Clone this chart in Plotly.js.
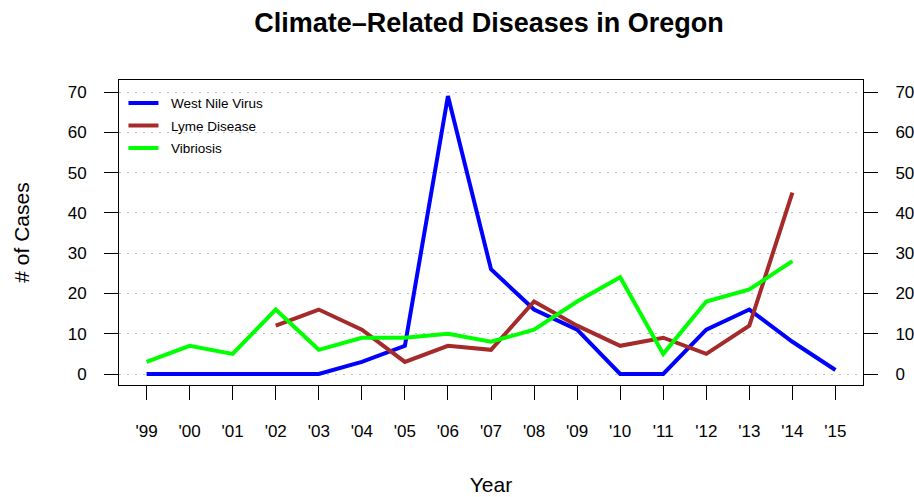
<!DOCTYPE html>
<html>
<head>
<meta charset="utf-8">
<script src="https://cdn.plot.ly/plotly-3.0.1.min.js"></script>
<style>html,body{margin:0;padding:0;background:#fff;}#chart{width:914px;height:497px;}</style>
</head>
<body>
<div id="chart"></div>
<script>
const years = [1999,2000,2001,2002,2003,2004,2005,2006,2007,2008,2009,2010,2011,2012,2013,2014,2015];
const yearLabels = ["'99","'00","'01","'02","'03","'04","'05","'06","'07","'08","'09","'10","'11","'12","'13","'14","'15"];
const westNile = [0,0,0,0,0,3,7,69,26,16,11,0,0,11,16,8,1];
const lyme = [null,null,null,12,16,11,3,7,6,18,12,7,9,5,12,45,null];
const vibriosis = [3,7,5,16,6,9,9,10,8,11,18,24,5,18,21,28,null];
const yTicks = [0,10,20,30,40,50,60,70];
const seriesNames = ["West Nile Virus", "Lyme Disease", "Vibriosis"];

const FONT = "Liberation Sans, Arial, Helvetica, sans-serif";
const yRange = [-2.73, 72.98];
const pad = "\u00a0\u00a0";

const traces = [
  {x: years, y: westNile, name: pad + seriesNames[0], mode: "lines", line: {color: "#0000FF", width: 4}, legendgroup: "a", connectgaps: false},
  {x: years, y: lyme, name: pad + seriesNames[1], mode: "lines", line: {color: "#A52A2A", width: 4}, legendgroup: "b", connectgaps: false},
  {x: years, y: vibriosis, name: pad + seriesNames[2], mode: "lines", line: {color: "#00FF00", width: 4}, legendgroup: "c", connectgaps: false},
  {x: [years[0]], y: [null], yaxis: "y2", showlegend: false, hoverinfo: "skip", mode: "lines"}
];

const layout = {
  width: 914, height: 497,
  margin: {l: 119, r: 51, t: 80, b: 112},
  paper_bgcolor: "#fff", plot_bgcolor: "#fff",
  font: {family: FONT, color: "#000", size: 17},
  title: {text: "<b>Climate\u2013Related Diseases in Oregon</b>", font: {family: FONT, size: 27, color: "#000"}, x: 0.535, xanchor: "center", y: 0.955, yanchor: "middle"},
  showlegend: true,
  legend: {x: 0.006, xanchor: "left", y: 0.975, yanchor: "top", bgcolor: "rgba(0,0,0,0)", borderwidth: 0, font: {family: FONT, size: 13.5, color: "#000"}, tracegroupgap: 2},
  xaxis: {
    range: [1998.36, 2015.64], tickvals: years, ticktext: yearLabels,
    ticks: "outside", ticklen: 14, tickwidth: 1, tickcolor: "#000",
    showline: true, linecolor: "#000", linewidth: 1, mirror: true,
    showgrid: false, zeroline: false, ticklabelstandoff: 17,
    tickfont: {family: FONT, size: 17, color: "#000"},
    title: {text: "Year", font: {family: FONT, size: 21, color: "#000"}, standoff: 36}
  },
  yaxis: {
    range: yRange, tickvals: yTicks,
    ticks: "outside", ticklen: 14, tickwidth: 1, tickcolor: "#000",
    showline: true, linecolor: "#000", linewidth: 1, mirror: true,
    showgrid: true, gridcolor: "#bdbdbd", griddash: "2px,6px", gridwidth: 1,
    zeroline: false, ticklabelstandoff: 14,
    tickfont: {family: FONT, size: 17, color: "#000"},
    title: {text: "# of Cases", font: {family: FONT, size: 21, color: "#000"}, standoff: 32}
  },
  yaxis2: {
    overlaying: "y", side: "right", range: yRange, tickvals: yTicks,
    ticks: "outside", ticklen: 14, tickwidth: 1, tickcolor: "#000",
    showline: false, showgrid: false, zeroline: false, ticklabelstandoff: 14,
    tickfont: {family: FONT, size: 17, color: "#000"}
  }
};

Plotly.newPlot("chart", traces, layout, {displayModeBar: false, staticPlot: true});
</script>
</body>
</html>
